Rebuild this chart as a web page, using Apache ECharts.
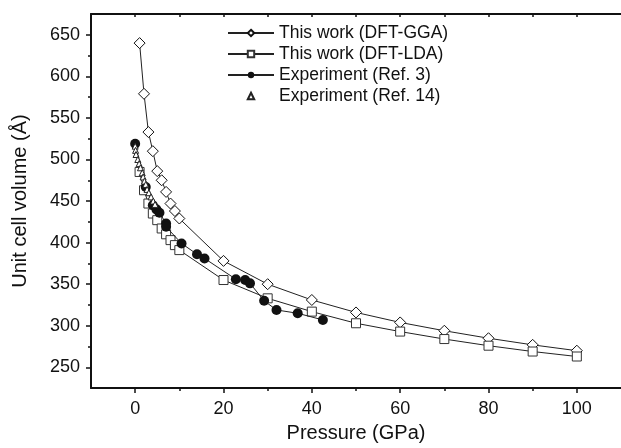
<!DOCTYPE html>
<html>
<head>
<meta charset="utf-8">
<script src="https://cdn.jsdelivr.net/npm/echarts@6/dist/echarts.min.js"></script>
<style>
html,body{margin:0;padding:0;background:#fff;}
#chart{width:621px;height:448px;}
</style>
</head>
<body>
<div id="chart"></div>
<script>
// Pressure (GPa) and unit cell volume values
var ggaP = [1, 2, 3, 4, 5, 6, 7, 8, 9, 10, 20, 30, 40, 50, 60, 70, 80, 90, 100];
var ggaV = [640, 579, 533, 510, 486, 475, 461, 447, 438, 429, 378, 350, 331, 316, 304, 294, 285, 277, 270];

var ldaP = [1, 2, 3, 4, 5, 6, 7, 8, 9, 10, 20, 30, 40, 50, 60, 70, 80, 90, 100];
var ldaV = [485, 463, 447, 435, 427, 417, 410, 403, 397, 391, 355, 333, 317, 303, 293, 284, 276, 269, 263];

var ref3P = [0, 2.4, 4.0, 4.8, 5.5, 7.0, 7.0, 10.5, 14.0, 15.7, 22.8, 24.9, 26.0, 29.2, 32.0, 36.8, 42.5];
var ref3V = [519, 467, 445, 440, 436, 423, 419, 399, 386, 381, 356, 355, 351, 330, 319, 315, 307];

var ref14P = [0, 0.1, 0.2, 0.6, 0.9, 1.2, 1.6, 1.8, 2.1, 2.4, 2.7, 3.1, 3.6, 4.1, 4.5];
var ref14V = [516, 511, 506, 500, 495, 490, 484, 479, 474, 470, 464, 460, 455, 450, 446];

var seriesNames = ['This work (DFT-GGA)', 'This work (DFT-LDA)', 'Experiment (Ref. 3)', 'Experiment (Ref. 14)'];

var xMajor = [0, 20, 40, 60, 80, 100];
var xMinor = [10, 30, 50, 70, 90];
var yMajor = [250, 300, 350, 400, 450, 500, 550, 600, 650];
var yMinor = [275, 325, 375, 425, 475, 525, 575, 625];

var xTitle = 'Pressure (GPa)';
var yTitle = 'Unit cell volume (Å)';

function pairs(xs, ys) {
  var out = [];
  for (var i = 0; i < xs.length; i++) out.push([xs[i], ys[i]]);
  return out;
}

var FONT = '"Liberation Sans", Arial, sans-serif';
var INK = '#111';

var chart = echarts.init(document.getElementById('chart'), null, {renderer: 'canvas'});

var baseX = {type: 'value', min: -10, max: 110, interval: 10, splitLine: {show: false}};
var baseY = {type: 'value', min: 225, max: 675, interval: 25, splitLine: {show: false}};

chart.setOption({
  animation: false,
  backgroundColor: '#fff',
  grid: {left: 91, top: 14, width: 540, height: 378, containLabel: false},
  legend: {
    orient: 'vertical',
    left: 227,
    top: 24,
    padding: 0,
    itemWidth: 46,
    itemHeight: 8,
    itemGap: 3,
    data: seriesNames,
    textStyle: {fontFamily: FONT, fontSize: 17.5, color: INK},
    inactiveColor: '#ccc'
  },
  xAxis: [
    Object.assign({}, baseX, {
      position: 'bottom',
      name: xTitle,
      nameLocation: 'middle',
      nameGap: 33,
      nameTextStyle: {fontFamily: FONT, fontSize: 20, color: INK},
      axisLine: {show: true, onZero: false, lineStyle: {color: INK, width: 2}},
      axisTick: {show: true, inside: false, length: 5, customValues: xMajor, lineStyle: {color: INK, width: 1.5}},
      axisLabel: {show: true, margin: 12, customValues: xMajor, fontFamily: FONT, fontSize: 18, color: INK}
    }),
    Object.assign({}, baseX, {
      position: 'bottom',
      axisLine: {show: false, onZero: false},
      axisTick: {show: true, inside: false, length: 3, customValues: xMinor, lineStyle: {color: INK, width: 1.5}},
      axisLabel: {show: false}
    }),
    Object.assign({}, baseX, {
      position: 'top',
      axisLine: {show: true, onZero: false, lineStyle: {color: INK, width: 2}},
      axisTick: {show: true, inside: true, length: 3, customValues: xMajor.concat(xMinor), lineStyle: {color: INK, width: 1.5}},
      axisLabel: {show: false}
    })
  ],
  yAxis: [
    Object.assign({}, baseY, {
      position: 'left',
      name: yTitle,
      nameLocation: 'middle',
      nameGap: 61,
      nameRotate: 90,
      nameTextStyle: {fontFamily: FONT, fontSize: 20, color: INK},
      axisLine: {show: true, onZero: false, lineStyle: {color: INK, width: 2}},
      axisTick: {show: true, inside: false, length: 5, customValues: yMajor, lineStyle: {color: INK, width: 1.5}},
      axisLabel: {show: true, margin: 11, customValues: yMajor, fontFamily: FONT, fontSize: 18, color: INK}
    }),
    Object.assign({}, baseY, {
      position: 'left',
      axisLine: {show: false, onZero: false},
      axisTick: {show: true, inside: false, length: 3, customValues: yMinor, lineStyle: {color: INK, width: 1.5}},
      axisLabel: {show: false}
    })
  ],
  series: [
    {
      name: seriesNames[0], type: 'line', xAxisIndex: 0, yAxisIndex: 0,
      data: pairs(ggaP, ggaV),
      symbol: 'diamond', symbolSize: 11, showAllSymbol: true,
      lineStyle: {color: '#222', width: 1},
      itemStyle: {color: '#fff', borderColor: '#111', borderWidth: 1},
      z: 2
    },
    {
      name: seriesNames[1], type: 'line', xAxisIndex: 0, yAxisIndex: 0,
      data: pairs(ldaP, ldaV),
      symbol: 'rect', symbolSize: 9, showAllSymbol: true,
      lineStyle: {color: '#222', width: 1},
      itemStyle: {color: '#fff', borderColor: '#333', borderWidth: 1},
      z: 3
    },
    {
      name: seriesNames[2], type: 'line', xAxisIndex: 0, yAxisIndex: 0,
      data: pairs(ref3P, ref3V),
      symbol: 'circle', symbolSize: 10, showAllSymbol: true,
      lineStyle: {color: '#222', width: 1},
      itemStyle: {color: '#111', borderColor: '#111', borderWidth: 0},
      z: 4
    },
    {
      name: seriesNames[3], type: 'line', xAxisIndex: 0, yAxisIndex: 0,
      data: pairs(ref14P, ref14V),
      symbol: 'triangle', symbolSize: 6, showAllSymbol: true,
      lineStyle: {color: '#222', width: 1, opacity: 0},
      itemStyle: {color: '#fff', borderColor: '#222', borderWidth: 1},
      z: 5
    }
  ]
});
</script>
</body>
</html>
